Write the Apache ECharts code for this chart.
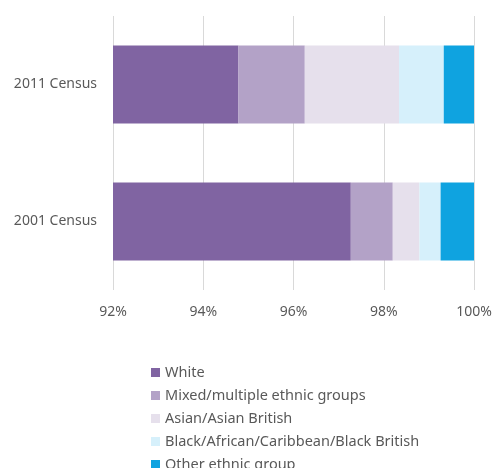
<!DOCTYPE html>
<html><head><meta charset="utf-8">
<script src="https://cdn.jsdelivr.net/npm/echarts@6/dist/echarts.min.js"></script>
<style>html,body{margin:0;padding:0;background:#fff}#c{width:496px;height:468px}</style>
</head><body><div id="c"></div>
<script>
const categories = ['2001 Census', '2011 Census'];
const seriesNames = ['White', 'Mixed/multiple ethnic groups', 'Asian/Asian British', 'Black/African/Caribbean/Black British', 'Other ethnic group'];
const white = [97.27, 94.78];
const mixed = [0.93, 1.47];
const asian = [0.59, 2.09];
const black = [0.47, 0.99];
const other = [0.74, 0.67];
const tickValues = [92, 94, 96, 98, 100];
const colors = ['#8064a2', '#b3a2c7', '#e6e0ec', '#d6f0fb', '#0fa3e0'];
const values = [white, mixed, asian, black, other];

const chart = echarts.init(document.getElementById('c'));
const font = 'Noto Sans';
chart.setOption({
  animation: false,
  grid: {left: 113, right: 22, top: 16, bottom: 178},
  xAxis: {
    type: 'value', min: tickValues[0], max: tickValues[tickValues.length-1], interval: 2,
    axisLine: {show: false}, axisTick: {show: false},
    splitLine: {lineStyle: {color: '#d9d9d9', width: 1}},
    axisLabel: {formatter: v => v + '%', color: '#595959', fontFamily: font, fontSize: 14, margin: 15}
  },
  yAxis: {
    type: 'category', data: categories,
    axisLine: {show: false}, axisTick: {show: false},
    axisLabel: {color: '#595959', fontFamily: font, fontSize: 14, margin: 16}
  },
  legend: {
    orient: 'vertical', left: 146, top: 360, height: 140,
    itemWidth: 9, itemHeight: 9, itemGap: 8, icon: 'rect',
    textStyle: {color: '#595959', fontFamily: font, fontSize: 14.5, lineHeight: 14},
    data: seriesNames
  },
  series: seriesNames.map((n, i) => ({
    name: n, type: 'bar', stack: 'total', data: values[i],
    barWidth: 78, itemStyle: {color: colors[i]}
  }))
});
</script></body></html>
